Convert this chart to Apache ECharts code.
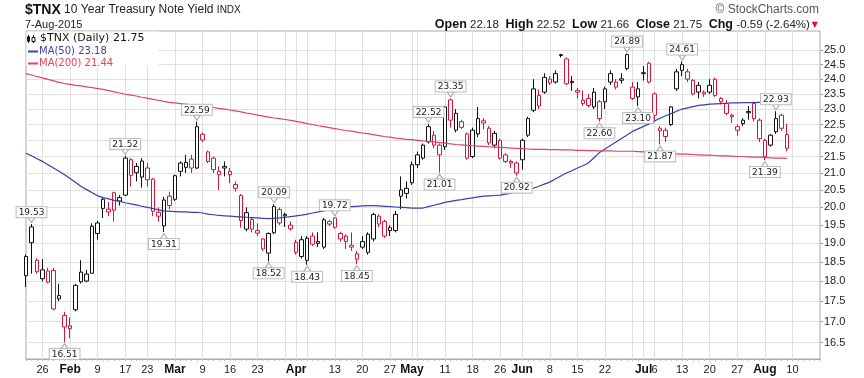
<!DOCTYPE html>
<html>
<head>
<meta charset="utf-8">
<title>$TNX 10 Year Treasury Note Yield</title>
<script src="https://cdn.jsdelivr.net/npm/echarts@6/dist/echarts.min.js"></script>
<style>
  html, body { margin: 0; padding: 0; background: #fff; }
  #main { width: 864px; height: 378px; }
</style>
</head>
<body>
<div id="main"></div>
<script>
// $TNX daily candles, 21-Jan-2015 .. 7-Aug-2015
var holidays = ['2015-02-16', '2015-04-03', '2015-05-25', '2015-07-03'];

var opens = [
  18.15, 19.45, 18.55, 18.07, 17.98, 18.28, 17.56, 17.15, 16.90, 17.29,
  18.24, 18.01, 18.21, 19.27, 20.23, 19.87, 20.42, 20.18, 20.35, 21.40,
  21.01, 20.88, 21.15, 20.82, 19.86, 19.48, 20.32, 20.23, 21.05, 21.17,
  21.42, 21.15, 22.19, 21.64, 21.45, 20.95, 21.20, 20.95, 20.55, 20.34,
  19.39, 19.66, 19.35, 19.12, 18.74, 19.29, 19.94, 19.80, 19.50, 19.03,
  18.65, 18.55, 19.20, 19.05, 18.90, 19.53, 19.70, 19.27, 19.20, 18.95,
  18.72, 18.90, 18.76, 19.12, 19.75, 19.60, 19.43, 19.35, 20.32, 20.40,
  20.71, 21.25, 21.45, 21.95, 22.16, 21.85, 21.80, 23.30, 22.32, 22.59,
  22.20, 21.50, 22.20, 22.62, 22.38, 21.85, 22.00, 21.55, 21.35, 21.30,
  21.40, 22.16, 22.96, 23.45, 23.56, 24.00, 23.90, 24.85, 24.70, 23.92,
  23.62, 23.29, 23.35, 23.07, 23.24, 23.24, 23.90, 23.90, 24.01, 24.36,
  23.73, 23.67, 24.22, 24.55, 23.50, 22.30, 22.32, 22.50, 23.67, 24.50,
  24.25, 23.96, 23.79, 23.56, 23.56, 24.00, 23.35, 23.18, 22.80, 22.43,
  22.64, 22.92, 23.18, 22.64, 22.00, 21.85, 22.27, 22.80, 22.18
];
var highs = [
  18.70, 19.53, 18.60, 18.58, 18.35, 18.35, 17.94, 17.24, 17.10, 17.94,
  18.55, 18.30, 19.55, 19.62, 20.30, 20.15, 20.45, 20.35, 21.52, 21.45,
  21.30, 21.45, 21.30, 20.85, 20.00, 20.30, 20.45, 20.95, 21.35, 21.55,
  21.55, 22.59, 22.25, 21.68, 21.50, 21.20, 21.35, 21.15, 20.75, 20.38,
  20.00, 19.72, 19.55, 19.15, 19.30, 20.09, 20.00, 19.85, 19.60, 19.10,
  19.20, 19.20, 19.30, 19.30, 19.70, 19.65, 19.72, 19.32, 19.25, 19.30,
  18.80, 19.20, 19.30, 19.85, 19.80, 19.65, 19.50, 19.90, 20.90, 20.75,
  21.35, 21.65, 21.90, 22.52, 22.30, 21.90, 23.10, 23.35, 23.00, 22.65,
  22.25, 22.40, 23.07, 22.70, 22.45, 22.30, 22.05, 21.60, 21.40, 21.35,
  22.05, 22.75, 24.00, 23.65, 24.20, 24.10, 24.30, 24.88, 24.75, 24.10,
  23.70, 23.62, 23.50, 23.70, 23.30, 23.75, 24.30, 24.00, 24.20, 24.89,
  23.90, 23.90, 24.45, 24.60, 23.55, 22.45, 22.40, 23.10, 24.35, 24.61,
  24.35, 24.00, 23.90, 23.62, 24.00, 24.05, 23.40, 23.30, 22.85, 22.50,
  22.70, 23.10, 23.25, 22.70, 22.05, 22.20, 22.93, 22.85, 22.52
];
var lows = [
  17.86, 18.20, 18.20, 18.00, 17.95, 17.28, 17.50, 16.51, 16.60, 17.25,
  17.95, 17.98, 18.20, 19.10, 19.70, 19.75, 19.60, 20.05, 20.33, 20.60,
  20.75, 20.57, 20.60, 19.75, 19.60, 19.31, 19.95, 20.18, 20.90, 21.00,
  21.00, 21.12, 21.95, 21.30, 21.00, 20.50, 20.90, 20.70, 20.45, 19.43,
  19.33, 19.30, 19.20, 18.80, 18.52, 19.25, 19.50, 19.45, 19.35, 18.70,
  18.60, 18.43, 18.93, 18.90, 18.85, 19.48, 19.40, 19.05, 18.85, 18.80,
  18.45, 18.85, 18.70, 19.05, 19.45, 19.15, 19.20, 19.30, 19.95, 20.25,
  20.65, 21.15, 21.40, 21.90, 21.75, 21.01, 21.70, 22.40, 22.25, 22.35,
  21.40, 21.45, 22.10, 22.35, 21.85, 21.75, 21.40, 21.30, 21.15, 20.92,
  21.10, 22.10, 22.90, 23.00, 23.50, 23.80, 23.85, 24.75, 23.80, 23.60,
  23.35, 23.10, 23.05, 23.00, 22.60, 23.00, 23.80, 23.65, 23.85, 24.30,
  23.30, 23.10, 23.95, 23.85, 22.60, 21.87, 21.95, 22.45, 23.60, 24.10,
  23.90, 23.45, 23.35, 23.40, 23.50, 23.40, 23.15, 22.80, 22.55, 22.15,
  22.45, 22.65, 22.60, 21.95, 21.39, 21.80, 22.20, 22.30, 21.66
];
var closes = [
  18.65, 19.02, 18.25, 18.30, 18.27, 17.31, 17.64, 16.87, 16.83, 17.90,
  17.99, 18.19, 19.47, 19.56, 19.97, 19.95, 19.92, 20.28, 21.45, 20.93,
  21.20, 21.36, 20.80, 19.89, 19.75, 20.21, 20.05, 20.92, 21.30, 21.32,
  21.15, 22.43, 22.01, 21.35, 21.10, 21.05, 21.15, 21.05, 20.66, 19.63,
  19.85, 19.39, 19.28, 18.85, 19.27, 20.02, 19.56, 19.76, 19.40, 18.76,
  19.10, 19.14, 18.98, 19.00, 19.65, 19.60, 19.44, 19.12, 19.05, 18.90,
  18.58, 19.05, 19.25, 19.80, 19.53, 19.20, 19.35, 19.80, 20.50, 20.55,
  21.25, 21.55, 21.85, 22.43, 21.85, 21.55, 23.07, 22.64, 22.86, 22.41,
  21.45, 22.32, 22.69, 22.55, 21.92, 22.22, 21.45, 21.35, 21.30, 21.00,
  22.00, 22.69, 23.67, 23.10, 24.06, 23.87, 24.19, 24.82, 23.84, 23.88,
  23.56, 23.18, 23.12, 23.56, 22.69, 23.67, 24.19, 23.73, 23.96, 24.85,
  23.35, 23.40, 24.19, 23.90, 22.80, 22.38, 22.12, 23.07, 24.25, 24.30,
  24.00, 23.50, 23.56, 23.50, 23.79, 23.45, 23.24, 22.86, 22.75, 22.32,
  22.53, 22.88, 22.69, 22.05, 21.50, 22.16, 22.69, 22.38, 21.75
];
var ma50 = [
  21.60, 21.52, 21.43, 21.35, 21.25, 21.15, 21.05, 20.95, 20.84, 20.72,
  20.60, 20.51, 20.42, 20.33, 20.28, 20.24, 20.20, 20.17, 20.13, 20.10,
  20.07, 20.03, 20.00, 19.97, 19.93, 19.90, 19.89, 19.88, 19.87, 19.87,
  19.86, 19.86, 19.84, 19.81, 19.79, 19.77, 19.76, 19.75, 19.74, 19.73,
  19.72, 19.71, 19.70, 19.69, 19.68, 19.69, 19.70, 19.72, 19.74, 19.76,
  19.78, 19.81, 19.84, 19.87, 19.90, 19.94, 19.97, 19.99, 20.00, 20.02,
  20.03, 20.04, 20.05, 20.05, 20.04, 20.03, 20.02, 20.01, 20.00, 19.99,
  19.98, 19.98, 19.98, 20.02, 20.06, 20.10, 20.14, 20.17, 20.20, 20.22,
  20.25, 20.27, 20.30, 20.32, 20.33, 20.34, 20.35, 20.38, 20.41, 20.44,
  20.47, 20.50, 20.55, 20.61, 20.67, 20.73, 20.82, 20.91, 21.00, 21.07,
  21.15, 21.22, 21.30, 21.46, 21.62, 21.73, 21.84, 21.95, 22.06, 22.17,
  22.28, 22.36, 22.44, 22.52, 22.61, 22.70, 22.78, 22.85, 22.93, 23.00,
  23.04, 23.08, 23.12, 23.14, 23.16, 23.17, 23.18, 23.19, 23.20, 23.20,
  23.21, 23.21, 23.21, 23.22, 23.22, 23.22, 23.21, 23.20, 23.18
];
var ma200 = [
  24.19, 24.14, 24.09, 24.04, 23.99, 23.94, 23.89, 23.85, 23.82, 23.79,
  23.77, 23.74, 23.71, 23.68, 23.65, 23.61, 23.57, 23.53, 23.49, 23.46,
  23.43, 23.39, 23.36, 23.32, 23.29, 23.25, 23.22, 23.20, 23.18, 23.16,
  23.14, 23.12, 23.10, 23.07, 23.05, 23.02, 23.00, 22.97, 22.94, 22.91,
  22.87, 22.84, 22.80, 22.77, 22.74, 22.71, 22.69, 22.66, 22.63, 22.60,
  22.57, 22.53, 22.50, 22.46, 22.43, 22.40, 22.37, 22.34, 22.31, 22.29,
  22.26, 22.23, 22.21, 22.18, 22.15, 22.12, 22.10, 22.07, 22.05, 22.03,
  22.02, 22.00, 21.98, 21.97, 21.95, 21.93, 21.91, 21.89, 21.87, 21.86,
  21.84, 21.83, 21.82, 21.81, 21.80, 21.79, 21.78, 21.77, 21.76, 21.75,
  21.74, 21.73, 21.72, 21.72, 21.72, 21.71, 21.71, 21.70, 21.70, 21.70,
  21.69, 21.69, 21.68, 21.68, 21.67, 21.67, 21.67, 21.66, 21.66, 21.66,
  21.66, 21.65, 21.64, 21.63, 21.62, 21.61, 21.60, 21.59, 21.58, 21.57,
  21.57, 21.56, 21.55, 21.54, 21.54, 21.53, 21.52, 21.52, 21.51, 21.50,
  21.50, 21.49, 21.48, 21.48, 21.47, 21.46, 21.45, 21.45, 21.44
];

// boxed high / low annotations: [date, value, 'h' | 'l']
var extremes = [
  ['2015-01-22', 19.53, 'h'], ['2015-01-30', 16.51, 'l'],
  ['2015-02-17', 21.52, 'h'], ['2015-02-26', 19.31, 'l'],
  ['2015-03-06', 22.59, 'h'], ['2015-03-25', 18.52, 'l'],
  ['2015-03-26', 20.09, 'h'], ['2015-04-06', 18.43, 'l'],
  ['2015-04-13', 19.72, 'h'], ['2015-04-17', 18.45, 'l'],
  ['2015-05-06', 22.52, 'h'], ['2015-05-08', 21.01, 'l'],
  ['2015-05-12', 23.35, 'h'], ['2015-05-29', 20.92, 'l'],
  ['2015-06-19', 22.60, 'l'], ['2015-06-26', 24.89, 'h'],
  ['2015-06-30', 23.10, 'l'], ['2015-07-07', 21.87, 'l'],
  ['2015-07-13', 24.61, 'h'], ['2015-08-03', 21.39, 'l'],
  ['2015-08-05', 22.93, 'h']
];

var xLabels = {
  '2015-01-26': '26', '2015-02-02': 'Feb', '2015-02-09': '9', '2015-02-17': '17',
  '2015-02-23': '23', '2015-03-02': 'Mar', '2015-03-09': '9', '2015-03-16': '16',
  '2015-03-23': '23', '2015-04-01': 'Apr', '2015-04-13': '13', '2015-04-20': '20',
  '2015-04-27': '27', '2015-05-01': 'May', '2015-05-11': '11', '2015-05-18': '18',
  '2015-05-26': '26', '2015-06-01': 'Jun', '2015-06-08': '8', '2015-06-15': '15',
  '2015-06-22': '22', '2015-07-01': 'Jul', '2015-07-06': '6', '2015-07-13': '13',
  '2015-07-20': '20', '2015-07-27': '27', '2015-08-03': 'Aug', '2015-08-10': '10'
};
var extraGrid = ['2015-03-30', '2015-04-06', '2015-05-04', '2015-06-29'];
var yTicks = [16.5, 17.0, 17.5, 18.0, 18.5, 19.0, 19.5, 20.0, 20.5, 21.0,
              21.5, 22.0, 22.5, 23.0, 23.5, 24.0, 24.5, 25.0];

// trading-day axis (weekends and exchange holidays skipped), runs past the last bar
var dates = [];
var t = Date.UTC(2015, 0, 21);
while (dates.length < 145) {
  var s = new Date(t).toISOString().slice(0, 10);
  var wd = new Date(t).getUTCDay();
  if (wd !== 0 && wd !== 6 && holidays.indexOf(s) < 0) dates.push(s);
  t += 86400000;
}

var RED = '#d8143c';
var BLACK = '#111';

var candleData = opens.map(function (o, k) {
  var prev = k > 0 ? closes[k - 1] : o;
  var col = closes[k] < prev ? RED : BLACK;
  return {
    value: [o, closes[k], lows[k], highs[k]],
    itemStyle: { color: '#fff', color0: col, borderColor: col, borderColor0: col }
  };
});

var gridSet = {};
Object.keys(xLabels).forEach(function (d) { gridSet[d] = true; });
extraGrid.forEach(function (d) { gridSet[d] = true; });

var dom = document.getElementById('main');
var myChart = echarts.init(dom);

var option = {
  animation: false,
  backgroundColor: '#fff',
  grid: { left: 26, right: 44, top: 31, bottom: 19, show: true, borderColor: '#a8a8a8', borderWidth: 1 },
  xAxis: {
    type: 'category',
    data: dates,
    boundaryGap: false,
    axisLine: { show: true, lineStyle: { color: '#a8a8a8' } },
    axisTick: { show: true, interval: 0, length: 2, lineStyle: { color: '#c0c0c0' } },
    axisLabel: {
      interval: function (i, v) { return xLabels[v] !== undefined; },
      formatter: function (v) {
        var txt = xLabels[v];
        return /^[A-Z]/.test(txt) ? '{m|' + txt + '}' : '{d|' + txt + '}';
      },
      margin: 5,
      rich: {
        m: { fontFamily: 'Liberation Sans', fontWeight: 'bold', fontSize: 12, color: '#111' },
        d: { fontFamily: 'Liberation Sans', fontSize: 11, color: '#222' }
      }
    },
    splitLine: {
      show: true,
      interval: function (i, v) { return gridSet[v] === true; },
      lineStyle: { color: '#e0e0e0', width: 1 }
    }
  },
  yAxis: {
    type: 'log',
    position: 'right',
    min: 16.12,
    max: 25.7,
    axisLine: { show: false },
    axisTick: { show: true, length: 3, customValues: yTicks, lineStyle: { color: '#999' } },
    axisLabel: {
      customValues: yTicks,
      formatter: function (v) { return Number(v).toFixed(1); },
      margin: 4,
      fontFamily: 'Liberation Sans',
      fontSize: 11,
      color: '#222'
    },
    splitLine: { show: true, lineStyle: { color: '#e0e0e0', width: 1 } }
  },
  series: [
    {
      name: '$TNX',
      type: 'candlestick',
      data: candleData,
      barWidth: 4,
      itemStyle: { borderWidth: 1 },
      markPoint: {
        z: 10,
        itemStyle: { color: '#fff', borderColor: '#aaa', borderWidth: 1 },
        label: {
          show: true,
          formatter: function (p) { return Number(p.value).toFixed(2); },
          fontFamily: 'DejaVu Sans',
          fontSize: 9,
          color: '#222',
          backgroundColor: '#fff',
          borderColor: '#bbb',
          borderWidth: 1,
          padding: [1, 2, 0, 2]
        },
        data: extremes.map(function (e) {
          var hi = e[2] === 'h';
          return {
            coord: [e[0], e[1]],
            value: e[1],
            symbol: hi ? 'path://M0,0L10,0L5,7Z' : 'path://M5,0L10,7L0,7Z',
            symbolSize: [7, 5],
            symbolOffset: [0, hi ? -4 : 4],
            label: { position: hi ? 'top' : 'bottom', distance: 0 }
          };
        })
      }
    },
    {
      name: 'MA(50)',
      type: 'line',
      data: ma50,
      symbol: 'none',
      lineStyle: { color: '#3b3fae', width: 1.2 }
    },
    {
      name: 'MA(200)',
      type: 'line',
      data: ma200,
      symbol: 'none',
      lineStyle: { color: '#e5435d', width: 1.2 }
    }
  ],
  graphic: [
    {
      type: 'text', left: 25, top: 3,
      style: {
        text: '{b|$TNX} {n|10 Year Treasury Note Yield} {s|INDX}',
        rich: {
          b: { fontFamily: 'Liberation Sans', fontWeight: 'bold', fontSize: 14, fill: '#111' },
          n: { fontFamily: 'Liberation Sans', fontSize: 12, fill: '#222' },
          s: { fontFamily: 'Liberation Sans', fontSize: 10, fill: '#222' }
        }
      }
    },
    {
      type: 'text', left: 25, top: 19,
      style: { text: '7-Aug-2015', fontFamily: 'Liberation Sans', fontSize: 11, fill: '#222' }
    },
    {
      type: 'text', right: 45, top: 4,
      style: { text: '\u00A9 StockCharts.com', fontFamily: 'Liberation Sans', fontSize: 12, fill: '#555' }
    },
    {
      type: 'text', right: 46, top: 18,
      style: {
        text: '{b|Open} {n|22.18}  {b|High} {n|22.52}  {b|Low} {n|21.66}  {b|Close} {n|21.75}  {b|Chg} {n|-0.59 (-2.64%)}{r|\u25BC}',
        rich: {
          b: { fontFamily: 'Liberation Sans', fontWeight: 'bold', fontSize: 12.5, fill: '#111' },
          n: { fontFamily: 'Liberation Sans', fontSize: 11.5, fill: '#222' },
          r: { fontFamily: 'DejaVu Sans', fontSize: 8, fill: RED, padding: [0, 0, 0, 2] }
        }
      }
    },
    // legend inside the plot, on a white patch that hides the grid
    { type: 'rect', shape: { x: 26.5, y: 31.5, width: 132, height: 34 }, style: { fill: '#fff' }, z: 50 },
    { type: 'line', shape: { x1: 28.5, y1: 35, x2: 28.5, y2: 43 }, style: { stroke: '#111', lineWidth: 1 }, z: 51 },
    { type: 'rect', shape: { x: 27, y: 36.5, width: 3, height: 5 }, style: { fill: '#111' }, z: 51 },
    { type: 'line', shape: { x1: 33.5, y1: 35, x2: 33.5, y2: 43 }, style: { stroke: '#111', lineWidth: 1 }, z: 51 },
    { type: 'rect', shape: { x: 32, y: 37.5, width: 3, height: 4 }, style: { fill: '#fff', stroke: '#111', lineWidth: 1 }, z: 51 },
    {
      type: 'text', left: 40, top: 33, z: 51,
      style: { text: '$TNX (Daily) 21.75', fontFamily: 'DejaVu Sans', fontSize: 11, fill: '#111' }
    },
    { type: 'line', shape: { x1: 28, y1: 51.5, x2: 38, y2: 51.5 }, style: { stroke: '#3b3fae', lineWidth: 2 }, z: 51 },
    {
      type: 'text', left: 39, top: 46, z: 51,
      style: { text: 'MA(50) 23.18', fontFamily: 'DejaVu Sans', fontSize: 10, fill: '#3b3fae' }
    },
    { type: 'line', shape: { x1: 28, y1: 63.5, x2: 38, y2: 63.5 }, style: { stroke: '#e5435d', lineWidth: 2 }, z: 51 },
    {
      type: 'text', left: 39, top: 58, z: 51,
      style: { text: 'MA(200) 21.44', fontFamily: 'DejaVu Sans', fontSize: 10, fill: '#e5435d' }
    }
  ]
};

if (option && typeof option === 'object') {
  myChart.setOption(option);
}
</script>
</body>
</html>
